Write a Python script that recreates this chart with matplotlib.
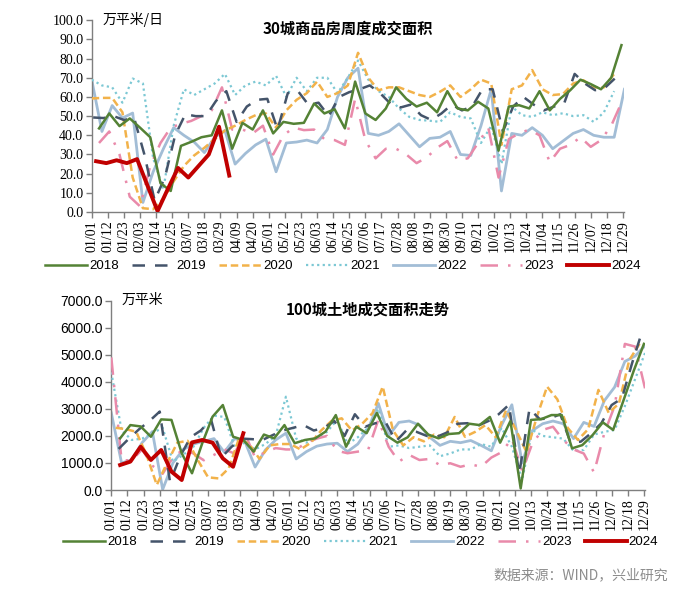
import numpy as np
import matplotlib.pyplot as plt

plt.rcParams['font.family'] = ['Liberation Sans', 'Noto Sans CJK SC', 'DejaVu Sans']

YEARS = ["2018", "2019", "2020", "2021", "2022", "2023", "2024"]

TICK_LABELS = [
    "01/01", "01/12", "01/23", "02/03", "02/14", "02/25", "03/07", "03/18",
    "03/29", "04/09", "04/20", "05/01", "05/12", "05/23", "06/03", "06/14",
    "06/25", "07/06", "07/17", "07/28", "08/08", "08/19", "08/30", "09/10",
    "09/21", "10/02", "10/13", "10/24", "11/04", "11/15", "11/26", "12/07",
    "12/18", "12/29",
]

# 30城商品房周度成交面积 (万平米/日), weekly values, first week day offset per year
top_start = [5, 1, 0, 0, 0, 5, 3]
top_2018 = [43.6, 51.4, 44.8, 48.8, 44, 39, 15, 11, 34.5, 36.6, 39, 40, 53, 33,
            46.5, 43, 53, 41, 47, 46, 46.5, 56.6, 51.4, 53.6, 43.6, 68, 51.4, 48,
            54, 65, 59, 55, 57, 52, 63, 54, 53, 57.5, 54, 32, 55, 55.7, 54, 63,
            53, 59, 63.5, 69, 66.7, 64, 70, 87]
top_2019 = [49.3, 49, 50, 48, 49, 30, 6, 18, 40, 51, 50, 50, 58, 63, 47, 55,
            58.5, 59, 43, 62, 63, 56, 57, 50, 60, 62.5, 64, 66, 62, 56.6, 54.5,
            56, 50.5, 48, 51.4, 56, 53, 55, 64, 64, 42, 55, 60, 56, 53, 55, 57,
            72, 67, 63.5, 65, 70]
top_2020 = [59.2, 59.5, 59.5, 52, 18, 2, 1.5, 7, 16, 24, 29.5, 33.5, 38, 42.5,
            45, 48, 50.5, 51.4, 44, 53, 58.5, 62, 68, 60, 62, 66, 83, 70, 63.5,
            65, 65, 63, 61, 60, 62.7, 66, 60, 64, 69, 67, 35, 64, 66, 74, 64, 61,
            61.5, 67, 68.7, 65, 65, 72]
top_2021 = [69, 66, 65, 57, 69.6, 67, 28, 12, 45, 64, 61, 64, 67, 72, 61, 66,
            68, 66, 71, 60, 70, 63, 70, 70, 62, 70, 79, 69, 63, 60, 54, 49.6, 48,
            47.6, 47, 52, 49.6, 48.8, 36, 45, 25, 55, 50.5, 49.6, 52, 50.5, 51.5,
            50, 50.5, 47, 52, 63]
top_2022 = [69, 42, 55.5, 49, 51.6, 5, 21, 33, 44, 40, 36.5, 31, 39, 42.5, 25,
            30.5, 35, 38, 21, 36, 36.5, 37.5, 36, 43, 60, 70, 75, 41, 40, 42, 46,
            40, 34, 38.4, 39, 42, 30, 29.5, 45, 64, 11, 41, 40, 44, 40, 33, 37,
            41, 43, 40, 39, 39, 64]
top_2023 = [36, 42, 30, 8, 3, 24, 36, 44, 46, 47.5, 50, 53, 65, 43, 43, 41, 45,
            30, 40, 44, 42.7, 43, 38, 37.5, 35, 59, 37.5, 28, 33, 33, 30, 25.5,
            28.5, 33.5, 37, 27, 28, 36, 44, 18, 38, 41, 43, 40, 26, 33, 35, 39,
            34, 37.5, 45, 57]
top_2024 = [26.5, 25.5, 27, 25.5, 27.6, 14, 0.5, 12, 23, 18, 24, 30, 44.5, 19]

# 100城土地成交面积 (万平米), weekly values
bot_start = [6, 5, 3, 0, 0, 0, 6]
bot_2018 = [1910, 2400, 2350, 1970, 2610, 2590, 1360, 620, 1730, 2710, 3140,
            1970, 1850, 1420, 2050, 1910, 2400, 1730, 1850, 1910, 2160, 2770,
            1600, 2340, 2100, 2850, 2000, 1750, 1950, 2450, 2050, 1910, 2070,
            2100, 2450, 2400, 2700, 1750, 2550, 60, 2590, 2620, 2770, 2770, 1540,
            1660, 2030, 2500, 2220, 3300, 4400, 5400]
bot_2019 = [1520, 1900, 2250, 2550, 2900, 300, 1250, 1950, 2200, 2600, 1200,
            1600, 1900, 1880, 1850, 2030, 2200, 2300, 2400, 2200, 2300, 2550,
            2000, 2800, 2340, 2470, 2500, 1800, 2200, 2150, 2000, 1970, 2130,
            2450, 2470, 2380, 2550, 2800, 3150, 600, 3000, 2620, 2650, 2800, 1750,
            1790, 2100, 2470, 3140, 3390, 4700, 5900]
bot_2020 = [2300, 2250, 2150, 1300, 190, 1000, 1750, 1820, 1100, 470, 430, 800,
            1900, 1700, 1150, 1650, 1700, 1700, 1500, 1750, 2200, 2550, 2650,
            2200, 2450, 2840, 3820, 2200, 1650, 1950, 1800, 2050, 1950, 2700,
            1970, 2150, 2400, 1950, 2950, 2200, 1400, 2700, 3820, 3350, 2300,
            1850, 2250, 3700, 2850, 3200, 4800, 5400]
bot_2021 = [4350, 2200, 1850, 1900, 2100, 2300, 1050, 1300, 1600, 2300, 2750,
            2700, 1600, 1750, 1500, 1700, 2000, 3450, 1900, 1750, 1950, 2150,
            2600, 1700, 1950, 2300, 3000, 1600, 1650, 1550, 1600, 1650, 1250,
            1350, 1500, 1500, 1700, 1600, 2300, 1600, 370, 2220, 2000, 1950, 1900,
            1450, 1480, 2050, 2150, 2220, 3100, 4100, 5100]
bot_2022 = [2850, 1000, 1120, 1750, 2160, 20, 1000, 1500, 1700, 1800, 1900,
            1400, 1900, 1800, 850, 1480, 1850, 2100, 1150, 1420, 1620, 1700, 1730,
            1420, 1700, 2250, 3200, 2000, 2500, 2550, 2400, 1950, 1650, 1800,
            1750, 1830, 1650, 1450, 2400, 3150, 1000, 2200, 2450, 2550, 2450,
            1900, 2500, 2350, 3300, 3800, 4750, 4950, 5350]
bot_2023 = [4900, 1100, 1100, 1500, 900, 600, 1200, 1500, 1350, 1100, 1300, 1500,
            1350, 2100, 1200, 1400, 1550, 1500, 1500, 1750, 1900, 2000, 1450,
            1360, 1420, 1480, 2600, 1600, 1050, 1300, 1110, 1150, 920, 990, 860,
            950, 860, 1200, 1400, 1900, 700, 1730, 2220, 2340, 1850, 1500, 1350,
            650, 2100, 3100, 5400, 5300, 3700]
bot_2024 = [925, 1050, 1600, 1110, 1480, 680, 370, 1760, 1850, 1750, 1170, 860,
            2100]

top_data = [top_2018, top_2019, top_2020, top_2021, top_2022, top_2023, top_2024]
bot_data = [bot_2018, bot_2019, bot_2020, bot_2021, bot_2022, bot_2023, bot_2024]

STYLES = {
    "2018": dict(color="#548235", lw=1.8, ls="-", zorder=6),
    "2019": dict(color="#44546A", lw=1.8, ls=(0, (5, 4)), zorder=5),
    "2020": dict(color="#F2B24A", lw=1.8, ls=(0, (3, 1.5)), zorder=4),
    "2021": dict(color="#7CC8D4", lw=1.6, ls=(0, (1, 1.5)), zorder=3),
    "2022": dict(color="#A2BDD6", lw=2.0, ls="-", zorder=2),
    "2023": dict(color="#E98AAA", lw=1.8, ls=(0, (7, 4, 1, 4)), zorder=3),
    "2024": dict(color="#C00000", lw=2.8, ls="-", zorder=8),
}

SERIF = "Liberation Serif"
TITLE_FONT = ["Noto Sans CJK SC", "DejaVu Sans"]


def draw_panel(ax, data, starts, ymax, ystep, unit, title, serif_y):
    for year, vals, s in zip(YEARS, data, starts):
        days = s + 7 * np.arange(len(vals))
        ax.plot(days, vals, label=year, **STYLES[year])

    ax.set_xlim(0, 364)
    ax.set_ylim(0, ymax)
    ax.set_xticks(np.arange(len(TICK_LABELS)) * 11)
    ax.set_xticklabels(TICK_LABELS, rotation=90, fontfamily=SERIF, fontsize=10)
    ax.set_yticks(np.arange(0, ymax + ystep / 2, ystep))
    ax.set_yticklabels([f"{v:.1f}" for v in np.arange(0, ymax + ystep / 2, ystep)],
                       fontfamily=SERIF if serif_y else "Liberation Sans", fontsize=10)
    for side in ["top", "right"]:
        ax.spines[side].set_visible(False)
    for side in ["left", "bottom"]:
        ax.spines[side].set_color("#7f7f7f")
        ax.spines[side].set_linewidth(1.0)
    ax.tick_params(direction="out", length=4, color="#7f7f7f", width=1.0, pad=2)

    ax.text(0.02, 1.005, unit, transform=ax.transAxes, fontsize=10,
            fontfamily=TITLE_FONT, va="center", ha="left")
    ax.text(0.48, 0.955, title, transform=ax.transAxes, fontsize=11,
            fontweight="bold", fontfamily=TITLE_FONT, va="center", ha="center")


fig = plt.figure(figsize=(7, 5.94), dpi=100)
ax1 = fig.add_axes([0.131, 0.643, 0.761, 0.323])
ax2 = fig.add_axes([0.159, 0.175, 0.763, 0.319])

draw_panel(ax1, top_data, top_start, 100, 10, "万平米/日", "30城商品房周度成交面积", True)
draw_panel(ax2, bot_data, bot_start, 7000, 1000, "万平米", "100城土地成交面积走势", False)

for ax, xpos, ypos in [(ax1, 0.49, 1 - 266 / 594), (ax2, 0.515, 1 - 542 / 594)]:
    handles, labels = ax.get_legend_handles_labels()
    fig.legend(handles, labels, loc="center", bbox_to_anchor=(xpos, ypos), ncol=7,
               frameon=False, fontsize=9.5, handlelength=3.2, handletextpad=0.15,
               columnspacing=1.0, borderpad=0, borderaxespad=0)

fig.text(0.955, 1 - 575 / 594, "数据来源：WIND，兴业研究", ha="right", va="center",
         fontsize=10, color="#8c8c8c", fontfamily=TITLE_FONT)

fig.savefig("out.png", dpi=100)
